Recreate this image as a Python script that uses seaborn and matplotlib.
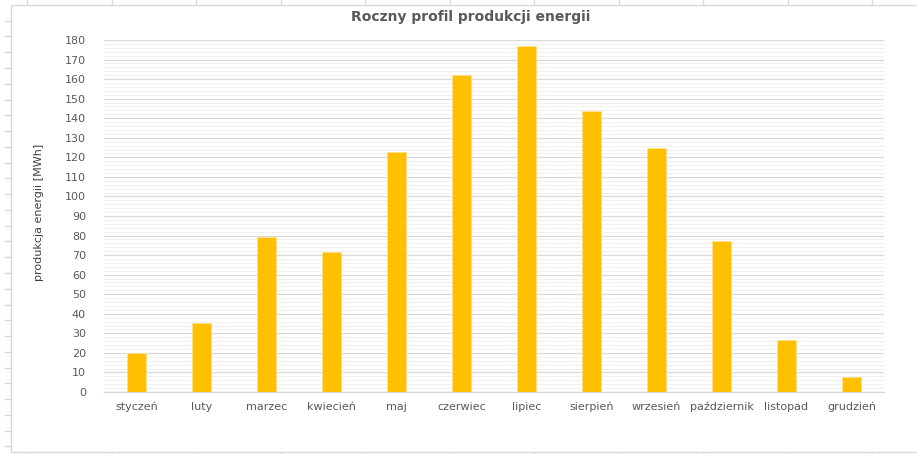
import numpy as np
import pandas as pd

import matplotlib
matplotlib.use('agg')
import matplotlib.pyplot as plt
from matplotlib.lines import Line2D
import seaborn as sns

months = ['styczeń', 'luty', 'marzec', 'kwiecień', 'maj', 'czerwiec',
          'lipiec', 'sierpień', 'wrzesień', 'październik', 'listopad', 'grudzień']
energy = [20.0, 35.3, 79.5, 71.5, 122.7, 162.0,
          177.0, 143.8, 124.8, 77.0, 26.8, 7.7]

W, H = 917, 454


def sheet_frame(fig):
    # excel sheet border with column / row ticks around the chart
    c = '#D9D9D9'
    fig.add_artist(Line2D([10.5 / W, 10.5 / W], [1 - 4.5 / H, 1 - 451.5 / H], color=c, lw=1))
    fig.add_artist(Line2D([10.5 / W, 1.01], [1 - 4.5 / H, 1 - 4.5 / H], color=c, lw=1))
    fig.add_artist(Line2D([10.5 / W, 1.01], [1 - 451.5 / H, 1 - 451.5 / H], color=c, lw=1))
    for x in np.arange(27, 900, 84.5):
        fig.add_artist(Line2D([x / W, x / W], [1.01, 1 - 4.5 / H], color=c, lw=1))
        fig.add_artist(Line2D([x / W, x / W], [1 - 451.5 / H, -0.01], color=c, lw=1))
    for y in np.arange(20.7, 450, 15.77):
        fig.add_artist(Line2D([5 / W, 10.5 / W], [1 - y / H, 1 - y / H], color=c, lw=1))


def main():
    sns.set_style('white')
    plt.rcParams['font.family'] = ['DejaVu Sans']
    df = pd.DataFrame({'month': months, 'value': energy})

    fig = plt.figure(figsize=(W / 100, H / 100), dpi=100)
    fig.patch.set_linewidth(0)
    ax = fig.add_axes([104 / W, 1 - 392 / H, 780 / W, 352 / H])

    sns.barplot(data=df, x='month', y='value', color='#FFC000', saturation=1,
                width=0.29, edgecolor='#FFE08A', linewidth=0.6, ax=ax, zorder=3)

    ax.set_ylim(0, 180)
    ax.set_xlim(-0.5, 11.5)
    ax.set_yticks(np.arange(0, 181, 10))
    ax.set_yticks(np.arange(0, 181, 2), minor=True)
    ax.grid(axis='y', which='major', color='#D9D9D9', lw=0.9, zorder=0)
    ax.grid(axis='y', which='minor', color='#F0F0F0', lw=0.8, zorder=0)
    ax.set_axisbelow(True)
    for s in ['top', 'right', 'left']:
        ax.spines[s].set_visible(False)
    ax.spines['bottom'].set_color('#D9D9D9')
    ax.spines['bottom'].set_linewidth(1)
    ax.tick_params(axis='both', which='both', length=0, labelsize=8, labelcolor='#595959')
    ax.tick_params(axis='x', pad=7)
    ax.tick_params(axis='y', pad=13)
    ax.set_xlabel('')
    ax.set_ylabel('produkcja energii [MWh]', fontsize=8, color='#404040',
                  fontfamily=['Liberation Sans Narrow', 'DejaVu Sans'])
    ax.yaxis.set_label_coords(-60 / 780, 0.51)

    fig.text(471 / W, 1 - 17 / H, 'Roczny profil produkcji energii', ha='center', va='center',
             fontsize=10, fontweight='bold', color='#595959')

    sheet_frame(fig)
    fig.savefig('out.png', dpi=100)
    plt.close('all')


if __name__ == '__main__':
    main()
